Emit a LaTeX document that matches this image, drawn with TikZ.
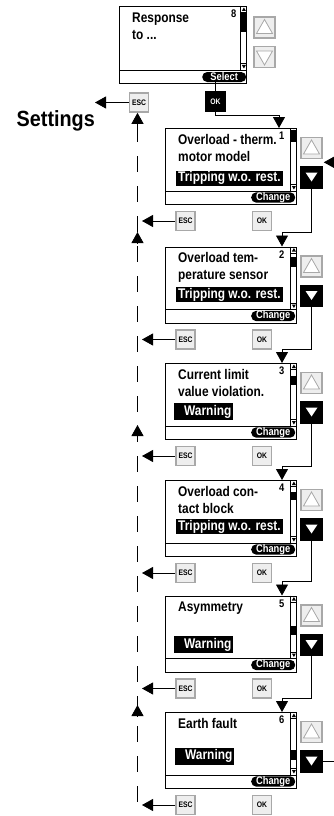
\documentclass[tikz,border=0pt]{standalone}
\usepackage{fontspec}
\setmainfont{Liberation Sans}
\newfontfamily\lcdfont[FakeStretch=0.85]{Liberation Sans}
\newfontfamily\headfont[FakeStretch=0.9]{Liberation Sans}
\usepackage{tikz}
\usetikzlibrary{arrows.meta, calc, positioning}
\definecolor{keygray}{RGB}{168,168,168}
\definecolor{keyfill}{RGB}{238,238,238}
\tikzset{
	screen/.style={draw, line width=1.4pt, fill=white, anchor=north west,
		minimum width=131pt, minimum height=76pt, inner sep=0pt},
	lcdtext/.style={font=\lcdfont\bfseries\fontsize{14}{14}\selectfont,
		anchor=base west, inner sep=0pt},
	index/.style={font=\lcdfont\bfseries\fontsize{11}{11}\selectfont,
		anchor=east, inner sep=0pt},
	hlbox/.style={font=\lcdfont\bfseries\fontsize{14}{14}\selectfont,
		fill=black, text=white, anchor=west, inner xsep=2pt, inner ysep=0pt},
	softkey/.style={fill=black, text=white, rounded corners=5pt, anchor=east,
		font=\lcdfont\bfseries\fontsize{11}{11}\selectfont,
		minimum height=10pt, minimum width=44pt, inner sep=0pt},
	key/.style={draw=keygray, fill=keyfill, line width=1.6pt, minimum size=19pt,
		inner sep=0pt, font=\lcdfont\bfseries\fontsize{8}{8}\selectfont},
	okkey/.style={key, draw=black, fill=black, text=white},
	arrowkey/.style={draw=keygray, fill=keyfill, line width=1.6pt,
		minimum size=21pt, inner sep=0pt},
	arrowkeyon/.style={arrowkey, draw=black, fill=black},
	link/.style={draw, line width=0.8pt},
	line/.style={link, -{Triangle[length=11pt, width=12pt]}},
	rail/.style={link, dash pattern=on 16pt off 14pt}
}
% scroll bar of a screen: #1 screen, #2 bar bottom, #3/#4 thumb top/bottom
\newcommand{\lcdscroll}[4]{%
	\draw[line width=0.9pt] ($(#1.north east)+(-7,0)$) -- ($(#1.north east)+(-7,#2)$);
	\fill ($(#1.north east)+(-7,#3)$) rectangle ($(#1.north east)+(0,#4)$);
	\fill ($(#1.north east)+(-3.5,1.5)$) -- ($(#1.north east)+(-1.5,5)$) -- ($(#1.north east)+(-5.5,5)$) -- cycle;
	\draw[line width=0.6pt] ($(#1.north east)+(-7,6.5)$) -- ($(#1.north east)+(0,6.5)$);
	\fill ($(#1.north east)+(-3.5,#2-1.5)$) -- ($(#1.north east)+(-1.5,#2-5)$) -- ($(#1.north east)+(-5.5,#2-5)$) -- cycle;
	\draw[line width=0.6pt] ($(#1.north east)+(-7,#2-6.5)$) -- ($(#1.north east)+(0,#2-6.5)$);
}

\begin{document}
\begin{tikzpicture}[x=1pt, y=-1pt]
	\useasboundingbox (0,0) rectangle (334,816);
	
	% Menu screen on top
	\node[screen, minimum width=127pt, minimum height=77pt] (s0) at (119,6) {};
	\lcdscroll{s0}{64}{7}{26}
	\draw[line width=0.9pt] ($(s0.north west)+(0,64)$) -- ($(s0.north east)+(0,64)$);
	\node[lcdtext] at ($(s0.north west)+(13,17)$) {Response};
	\node[lcdtext] at ($(s0.north west)+(13,34)$) {to ...};
	\node[index] at ($(s0.north east)+(-11,8)$) {8};
	\node[softkey] (sel0) at ($(s0.north east)+(-1,71)$) {Select};
	\node[arrowkey] (up0) at (264.5,27.5) {};
	\node[arrowkey] (dn0) at (264.5,57) {};
	\draw[keygray, fill=white, line width=0.8pt] ($(up0)+(0,-8)$) -- ($(up0)+(8,6)$) -- ($(up0)+(-8,6)$) -- cycle;
	\draw[keygray, fill=white, line width=0.8pt] ($(dn0)+(0,8)$) -- ($(dn0)+(8,-6)$) -- ($(dn0)+(-8,-6)$) -- cycle;
	
	% Keys below the menu screen
	\node[key] (esc0) at (139,102.5) {ESC};
	\node[okkey] (ok0) at (215.5,101.5) {OK};
	\node[font=\headfont\bfseries\fontsize{22}{22}\selectfont, anchor=base east, inner sep=0pt] (settings) at (95,126) {Settings};
	
	% Parameter screens
	\foreach \i/\tp/\la/\lb/\hl/\hx/\hy/\hh/\ta/\tb in {
		1/128/{Overload - therm.}/{motor model}/{Tripping w.o. rest.}/11/50/15/2/14,
		2/246.5/{Overload tem-}/{perature sensor}/{Tripping w.o. rest.}/11/48/15/10/20,
		3/363/{Current limit}/{value violation.}/{\hspace{8pt}Warning}/9/48.5/17/13/22,
		4/480/{Overload con-}/{tact block}/{Tripping w.o. rest.}/11/46.5/15/12/20,
		5/595.5/{Asymmetry}/{}/{\hspace{8pt}Warning}/9/49/17/30/39,
		6/712/{Earth fault}/{}/{\hspace{8pt}Warning}/10/44/17/38/48} {
		\node[screen] (s\i) at (165,\tp) {};
		\lcdscroll{s\i}{63}{\ta}{\tb}
		\draw[line width=0.9pt] ($(s\i.north west)+(0,63)$) -- ($(s\i.north east)+(0,63)$);
		\node[lcdtext] at ($(s\i.north west)+(13,16)$) {\la};
		\node[lcdtext] at ($(s\i.north west)+(13,33)$) {\lb};
		\node[index] at ($(s\i.north east)+(-13,8)$) {\i};
		\node[hlbox, minimum height=\hh pt] at ($(s\i.north west)+(\hx,\hy)$) {\hl};
		\node[softkey] (chg\i) at ($(s\i.north east)+(-2,69.5)$) {Change};
		% scroll keys
		\node[arrowkey] (up\i) at (311.5,\tp+20) {};
		\node[arrowkeyon] (dn\i) at (311.5,\tp+49.5) {};
		\draw[keygray, fill=white, line width=0.8pt] ($(up\i)+(0,-8)$) -- ($(up\i)+(8,6)$) -- ($(up\i)+(-8,6)$) -- cycle;
		\fill[white] ($(dn\i)+(0,4)$) -- ($(dn\i)+(6,-5)$) -- ($(dn\i)+(-6,-5)$) -- cycle;
		% ESC and OK keys
		\node[key] (esc\i) at (185.5,\tp+93) {ESC};
		\node[key] (ok\i) at (262,\tp+93) {OK};
	}
	
	% Return rail on the left
	\coordinate (rail) at (137.5,126);
	\draw[rail] (rail) -- (137.5,816);
	\draw[line] (rail) -- (rail |- esc0.south);
	\foreach \y in {232, 425, 705} {
		\draw[line] (137.5,\y+11) -- (137.5,\y);
	}
	\foreach \i in {1,...,6} {
		\draw[line] (esc\i.west) -- ($(esc\i.west -| rail)+(4.5,0)$);
	}
	\draw[line] (esc0.west) -- (esc0.west -| settings.east);
	
	% Forward path
	\draw[link] (ok0.north) -- (ok0.north |- sel0.south);
	\draw[line] (ok0.south) |- ($(s1.north west)+(114,-13)$) -- ($(s1.north west)+(114,0)$);
	\foreach \i [evaluate=\i as \j using int(\i+1)] in {1,...,5} {
		\draw[line] (dn\i.south) |- ($(s\j.north west)+(117,-14)$) -- ($(s\j.north west)+(117,0)$);
	}
	
	% Loop back to the first screen
	\coordinate (edge) at (334,0);
	\coordinate (loopin) at ($(up1.south east)+(1,3)$);
	\draw[link] (dn6.east) -- (dn6.east -| edge);
	\draw[line] (loopin -| edge) -- (loopin);
	
\end{tikzpicture}
\end{document}
